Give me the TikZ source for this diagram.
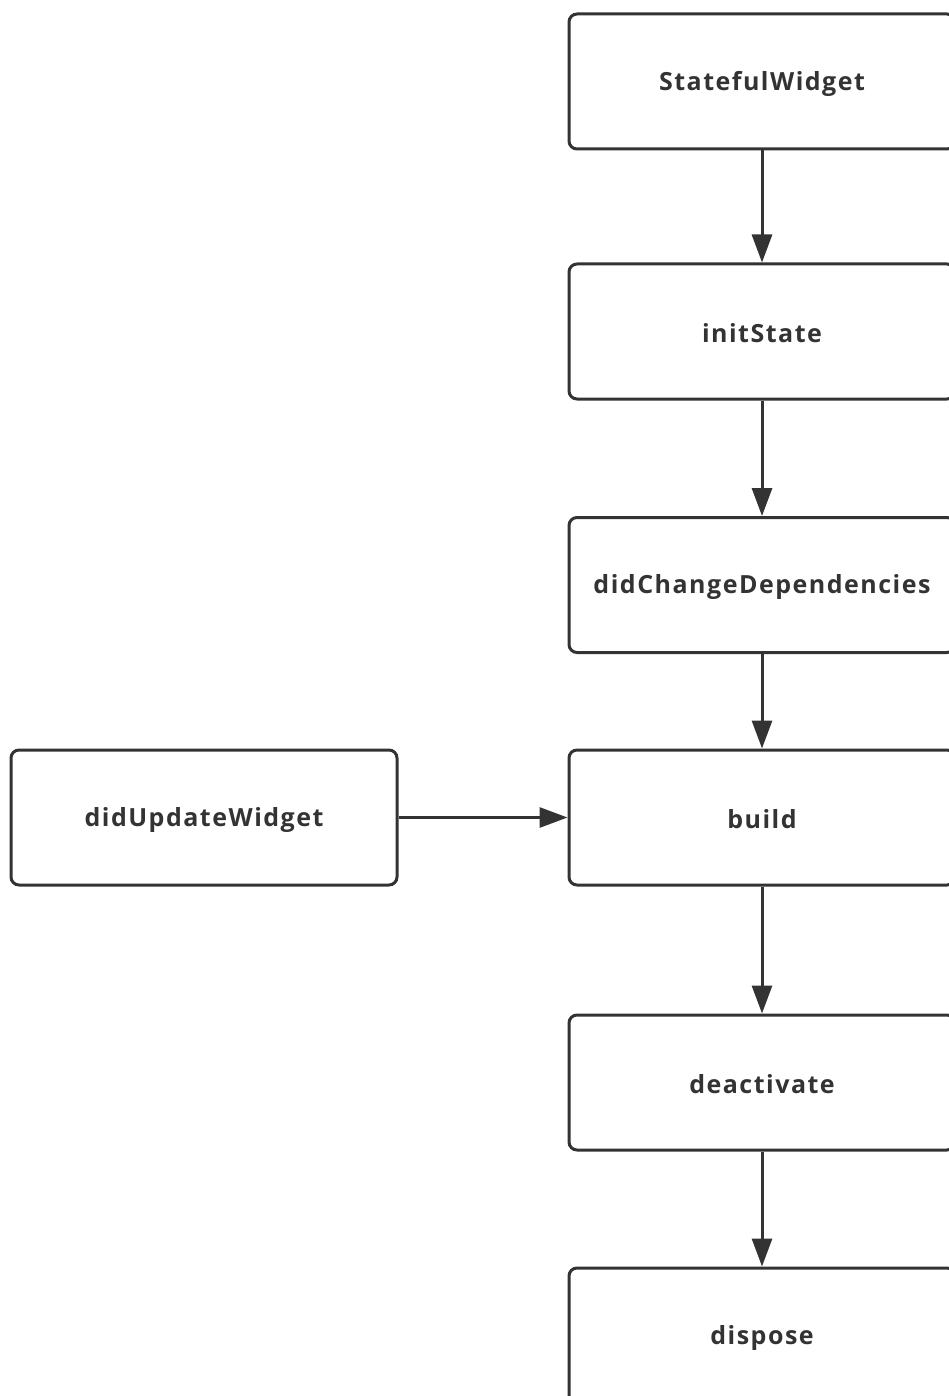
\documentclass[tikz,border=0pt]{standalone}
\usepackage{fontspec}
\setmainfont{Open Sans}[LetterSpace=6]
\usetikzlibrary{arrows.meta}
\definecolor{ln}{HTML}{333333}
\definecolor{tx}{HTML}{333333}
\tikzset{
  stage/.style={draw=ln, line width=3pt, rounded corners=8pt, rectangle,
    minimum width=386pt, minimum height=135pt, inner sep=0pt,
    font=\fontsize{25}{29}\selectfont\bfseries, text=tx},
  lbl/.style={font=\fontsize{25}{29}\selectfont\bfseries, text=tx, inner sep=0pt},
  flow/.style={draw=ln, line width=3pt, -{Triangle[length=28pt,width=20pt]}}
}
\begin{document}
\begin{tikzpicture}[x=1pt,y=-1pt]
\useasboundingbox (0,0) rectangle (949,1396);
\clip (0,0) rectangle (949,1396);
\node[stage] (sw) at (762,81.5) {};
\node[stage] (init) at (762,331.5) {};
\node[stage] (dcd) at (762,585) {};
\node[stage] (build) at (762,817.5) {};
\node[stage] (deact) at (762,1082.5) {};
\node[stage] (disp) at (762,1335.5) {};
\node[stage] (duw) at (204,817.5) {};
\node[lbl] (tsw) at ([yshift=-2pt]sw.center) {StatefulWidget};
\node[lbl] (tinit) at ([yshift=-2pt]init.center) {initState};
\node[lbl] (tdcd) at ([yshift=-2pt]dcd.center) {didChangeDependencies};
\node[lbl] (tbuild) at ([yshift=-2pt]build.center) {build};
\node[lbl] (tdeact) at ([yshift=-2pt]deact.center) {deactivate};
\node[lbl] (tdisp) at ([yshift=-2pt]disp.center) {dispose};
\node[lbl] (tduw) at ([yshift=-2pt]duw.center) {didUpdateWidget};
\draw[flow] (sw) -- (init);
\draw[flow] (init) -- (dcd);
\draw[flow] (dcd) -- (build);
\draw[flow] (build) -- (deact);
\draw[flow] (deact) -- (disp);
\draw[flow] (duw) -- (build);
\end{tikzpicture}
\end{document}
